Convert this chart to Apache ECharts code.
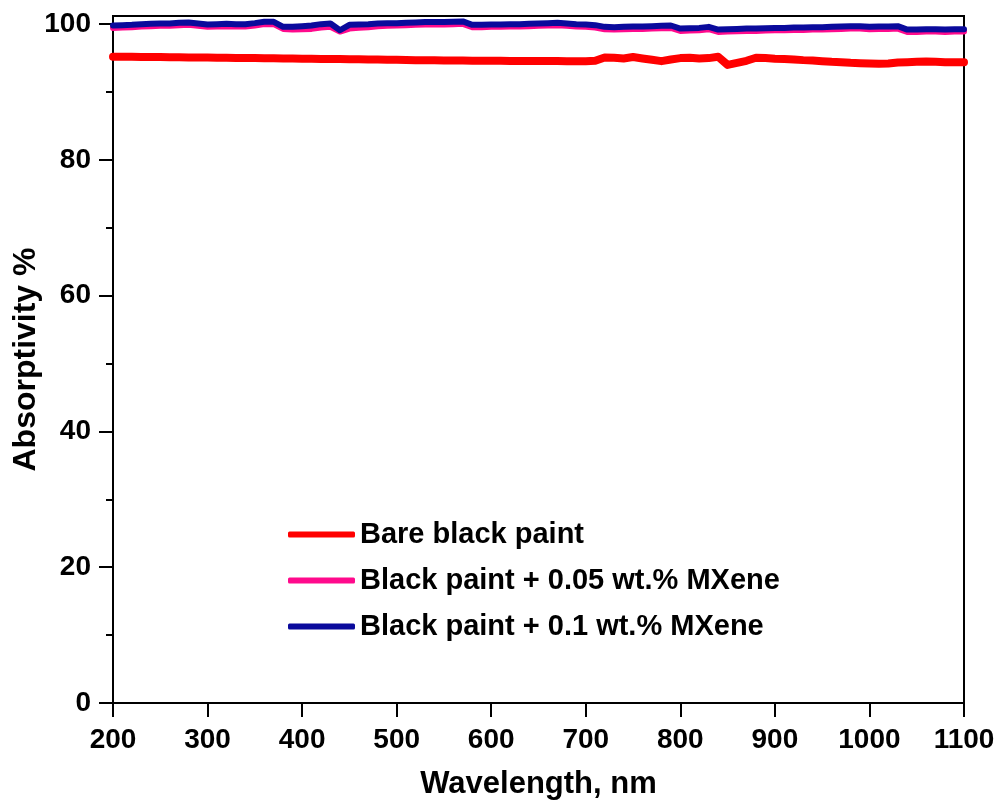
<!DOCTYPE html>
<html>
<head>
<meta charset="utf-8">
<script src="https://cdn.jsdelivr.net/npm/echarts@6/dist/echarts.min.js"></script>
<style>
  html, body { margin: 0; padding: 0; background: #fff; }
  #chart { width: 1001px; height: 805px; }
</style>
</head>
<body>
<div id="chart"></div>
<script>
// wavelength grid (nm), every 10 nm
const wavelengths = [];
for (let w = 200; w <= 1100; w += 10) wavelengths.push(w);

// Bare black paint
const bare = [
  95.2, 95.2, 95.18, 95.17, 95.15, 95.15, 95.13, 95.12, 95.1, 95.1,
  95.08, 95.05, 95.05, 95.03, 95.0, 95.0, 94.98, 94.97, 94.95, 94.93,
  94.9, 94.9, 94.88, 94.87, 94.85, 94.84, 94.82, 94.8, 94.78, 94.77,
  94.75, 94.72, 94.7, 94.7, 94.68, 94.66, 94.65, 94.64, 94.62, 94.6,
  94.6, 94.6, 94.58, 94.58, 94.57, 94.57, 94.56, 94.56, 94.55, 94.55,
  94.55, 94.6, 95.1, 95.05, 94.95, 95.15, 94.95, 94.75, 94.55, 94.8,
  95.0, 95.05, 94.95, 95.0, 95.2, 94.0, 94.3, 94.6, 95.05, 95.0,
  94.9, 94.85, 94.8, 94.7, 94.65, 94.55, 94.45, 94.4, 94.3, 94.25,
  94.2, 94.15, 94.2, 94.35, 94.4, 94.45, 94.5, 94.45, 94.4, 94.4,
  94.4
];

// Black paint + 0.05 wt.% MXene
const mx005 = [
  99.45, 99.5, 99.55, 99.65, 99.7, 99.75, 99.75, 99.85, 99.9, 99.75,
  99.6, 99.65, 99.7, 99.65, 99.65, 99.8, 100.0, 100.0, 99.3, 99.2,
  99.25, 99.3, 99.5, 99.6, 98.9, 99.35, 99.45, 99.55, 99.7, 99.75,
  99.8, 99.85, 99.9, 99.95, 99.95, 99.95, 100.0, 100.05, 99.55, 99.55,
  99.6, 99.6, 99.65, 99.65, 99.7, 99.75, 99.8, 99.85, 99.75, 99.65,
  99.6, 99.5, 99.25, 99.2, 99.25, 99.3, 99.3, 99.35, 99.4, 99.45,
  99.0, 99.05, 99.1, 99.25, 98.85, 98.9, 98.95, 99.0, 99.0, 99.05,
  99.1, 99.1, 99.15, 99.15, 99.2, 99.2, 99.25, 99.3, 99.35, 99.35,
  99.25, 99.3, 99.3, 99.35, 98.85, 98.85, 98.9, 98.9, 98.85, 98.9,
  98.9
];

// Black paint + 0.1 wt.% MXene
const mx01 = [
  99.8, 99.85, 99.9, 100.0, 100.05, 100.1, 100.1, 100.2, 100.25, 100.1,
  99.95, 100.0, 100.05, 100.0, 100.0, 100.15, 100.35, 100.35, 99.6, 99.6,
  99.7, 99.8, 100.0, 100.1, 99.1, 99.9, 99.95, 100.0, 100.1, 100.15,
  100.15, 100.2, 100.25, 100.3, 100.3, 100.3, 100.35, 100.4, 99.9, 99.9,
  99.95, 99.95, 100.0, 100.0, 100.05, 100.1, 100.15, 100.2, 100.1, 100.0,
  99.95, 99.85, 99.6, 99.55, 99.6, 99.65, 99.65, 99.7, 99.75, 99.8,
  99.35, 99.4, 99.45, 99.6, 99.2, 99.25, 99.3, 99.35, 99.35, 99.4,
  99.45, 99.45, 99.5, 99.5, 99.55, 99.55, 99.6, 99.65, 99.7, 99.7,
  99.6, 99.65, 99.65, 99.7, 99.2, 99.2, 99.25, 99.25, 99.2, 99.25,
  99.25
];

const seriesNames = ["Bare black paint", "Black paint + 0.05 wt.% MXene", "Black paint + 0.1 wt.% MXene"];
const seriesColors = ["#ff0000", "#ff0a8c", "#0a0a9c"];
const seriesValues = [bare, mx005, mx01];
const yMajorTicks = [0, 20, 40, 60, 80, 100];
const yMinorTicks = [10, 30, 50, 70, 90];

const font = "'Liberation Sans', Arial, sans-serif";
const chart = echarts.init(document.getElementById("chart"));

const yBase = {
  type: "value",
  min: 0,
  max: 101.2,
  position: "left",
  splitLine: { show: false },
};

const option = {
  animation: false,
  grid: {
    left: 113, right: 37, top: 16, bottom: 102,
    outerBoundsMode: "none",
    containLabel: false,
    show: true, borderColor: "#000", borderWidth: 2,
  },
  legend: {
    orient: "vertical",
    left: 283,
    top: 515,
    itemWidth: 67,
    itemHeight: 6,
    itemGap: 17,
    icon: "roundRect",
    data: seriesNames,
    textStyle: { fontSize: 29, fontWeight: "bold", color: "#000", fontFamily: font },
  },
  xAxis: {
    type: "value",
    min: 200,
    max: 1100,
    interval: 100,
    name: "Wavelength, nm",
    nameLocation: "middle",
    nameGap: 66,
    nameMoveOverlap: false,
    nameTextStyle: { fontSize: 31, fontWeight: "bold", color: "#000", fontFamily: font },
    axisLine: { lineStyle: { color: "#000", width: 2 } },
    axisTick: { length: 14, lineStyle: { color: "#000", width: 2 } },
    axisLabel: {
      margin: 23, fontSize: 28, fontWeight: "bold", color: "#000", fontFamily: font,
      formatter: (v) => String(v),
    },
    splitLine: { show: false },
  },
  yAxis: [
    Object.assign({}, yBase, {
      name: "Absorptivity %",
      nameLocation: "middle",
      nameGap: 71,
      nameMoveOverlap: false,
      nameTextStyle: { fontSize: 32, fontWeight: "bold", color: "#000", fontFamily: font },
      axisLine: { show: true, lineStyle: { color: "#000", width: 2 } },
      axisTick: { length: 14, lineStyle: { color: "#000", width: 2 }, customValues: yMajorTicks },
      axisLabel: {
        margin: 22, fontSize: 28, fontWeight: "bold", color: "#000", fontFamily: font,
        customValues: yMajorTicks,
      },
    }),
    Object.assign({}, yBase, {
      axisLine: { show: false },
      axisTick: { length: 7, lineStyle: { color: "#000", width: 2 }, customValues: yMinorTicks },
      axisLabel: { show: false },
    }),
  ],
  series: seriesNames.map((name, i) => ({
    name: name,
    type: "line",
    yAxisIndex: 0,
    showSymbol: false,
    symbol: "none",
    color: seriesColors[i],
    lineStyle: { width: i === 0 ? 8 : 6, color: seriesColors[i], join: "round", cap: "round" },
    data: wavelengths.map((w, k) => [w, seriesValues[i][k]]),
  })),
};

chart.setOption(option);
</script>
</body>
</html>
